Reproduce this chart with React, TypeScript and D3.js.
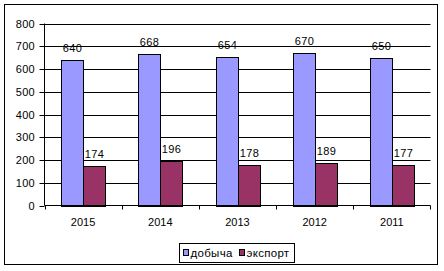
import React from "react";
import * as d3 from "d3";

const categories = ["2015", "2014", "2013", "2012", "2011"];
const production = [640, 668, 654, 670, 650];
const exportVals = [174, 196, 178, 189, 177];
const yTicks = [0, 100, 200, 300, 400, 500, 600, 700, 800];
const seriesNames = ["добыча", "экспорт"];
const colors = ["#9999FF", "#993366"];

export default function App() {
  const W = 444, H = 271;
  const left = 44.5, right = 430.5, top = 23.5, bottom = 205.5;
  const x = d3.scaleBand<string>().domain(categories).range([left, right]);
  const y = d3.scaleLinear().domain([0, 800]).range([bottom, top]);
  const barW = 22;
  const font = "'Liberation Sans', Arial, sans-serif";
  const series = [production, exportVals];
  return (
    <svg width={W} height={H} style={{ position: "absolute", left: 0, top: 0 }}>
      <rect x={0} y={0} width={W} height={H} fill="#fff" />
      <rect x={4.5} y={4.5} width={433} height={260} fill="#fff" stroke="#000" strokeWidth={1} />
      {yTicks.map((t) => (
        <g key={t}>
          {t > 0 && <line x1={left} x2={right} y1={Math.round(y(t)) + 0.5} y2={Math.round(y(t)) + 0.5} stroke="#000" />}
          <line x1={left - 5} x2={left} y1={Math.round(y(t)) + 0.5} y2={Math.round(y(t)) + 0.5} stroke="#000" />
          <text x={35} y={Math.round(y(t)) + 0.5} dy="0.35em" textAnchor="end" fontFamily={font} fontSize={11} letterSpacing={0.3}>{t}</text>
        </g>
      ))}
      {categories.map((c, i) =>
        series.map((s, j) => {
          const cx = x(c)! + x.bandwidth() / 2;
          const bx = Math.round(cx - barW + j * barW) + 0.5;
          const by = Math.round(y(s[i])) + 0.5;
          return (
            <g key={c + j}>
              <rect x={bx} y={by} width={barW} height={Math.round(bottom) - by + 0.5} fill={colors[j]} stroke="#000" />
              <text x={bx + barW / 2} y={by - 12.5} textAnchor="middle" dy="0.35em" fontFamily={font} fontSize={11} letterSpacing={0.3}>{s[i]}</text>
            </g>
          );
        })
      )}
      <line x1={left} x2={left} y1={top} y2={bottom} stroke="#000" />
      <line x1={left} x2={right} y1={bottom} y2={bottom} stroke="#000" />
      {categories.map((c, i) => (
        <g key={"t" + c}>
          <line x1={Math.round(x(c)!) + 0.5} x2={Math.round(x(c)!) + 0.5} y1={bottom} y2={bottom + 4} stroke="#000" />
          {i === categories.length - 1 && (
            <line x1={right} x2={right} y1={bottom} y2={bottom + 4} stroke="#000" />
          )}
          <text x={x(c)! + x.bandwidth() / 2} y={222} dy="0.35em" textAnchor="middle" fontFamily={font} fontSize={11}>{c}</text>
        </g>
      ))}
      <rect x={179.5} y={243.5} width={115} height={19} fill="#fff" stroke="#000" />
      {seriesNames.map((n, j) => {
        const lx = j === 0 ? 183.5 : 239.5;
        return (
          <g key={n}>
            <rect x={lx} y={249.5} width={5} height={6} fill={colors[j]} stroke="#000" />
            <text x={lx + 7} y={253} dy="0.35em" fontFamily={font} fontSize={11.5} letterSpacing={0.3}>{n}</text>
          </g>
        );
      })}
    </svg>
  );
}
